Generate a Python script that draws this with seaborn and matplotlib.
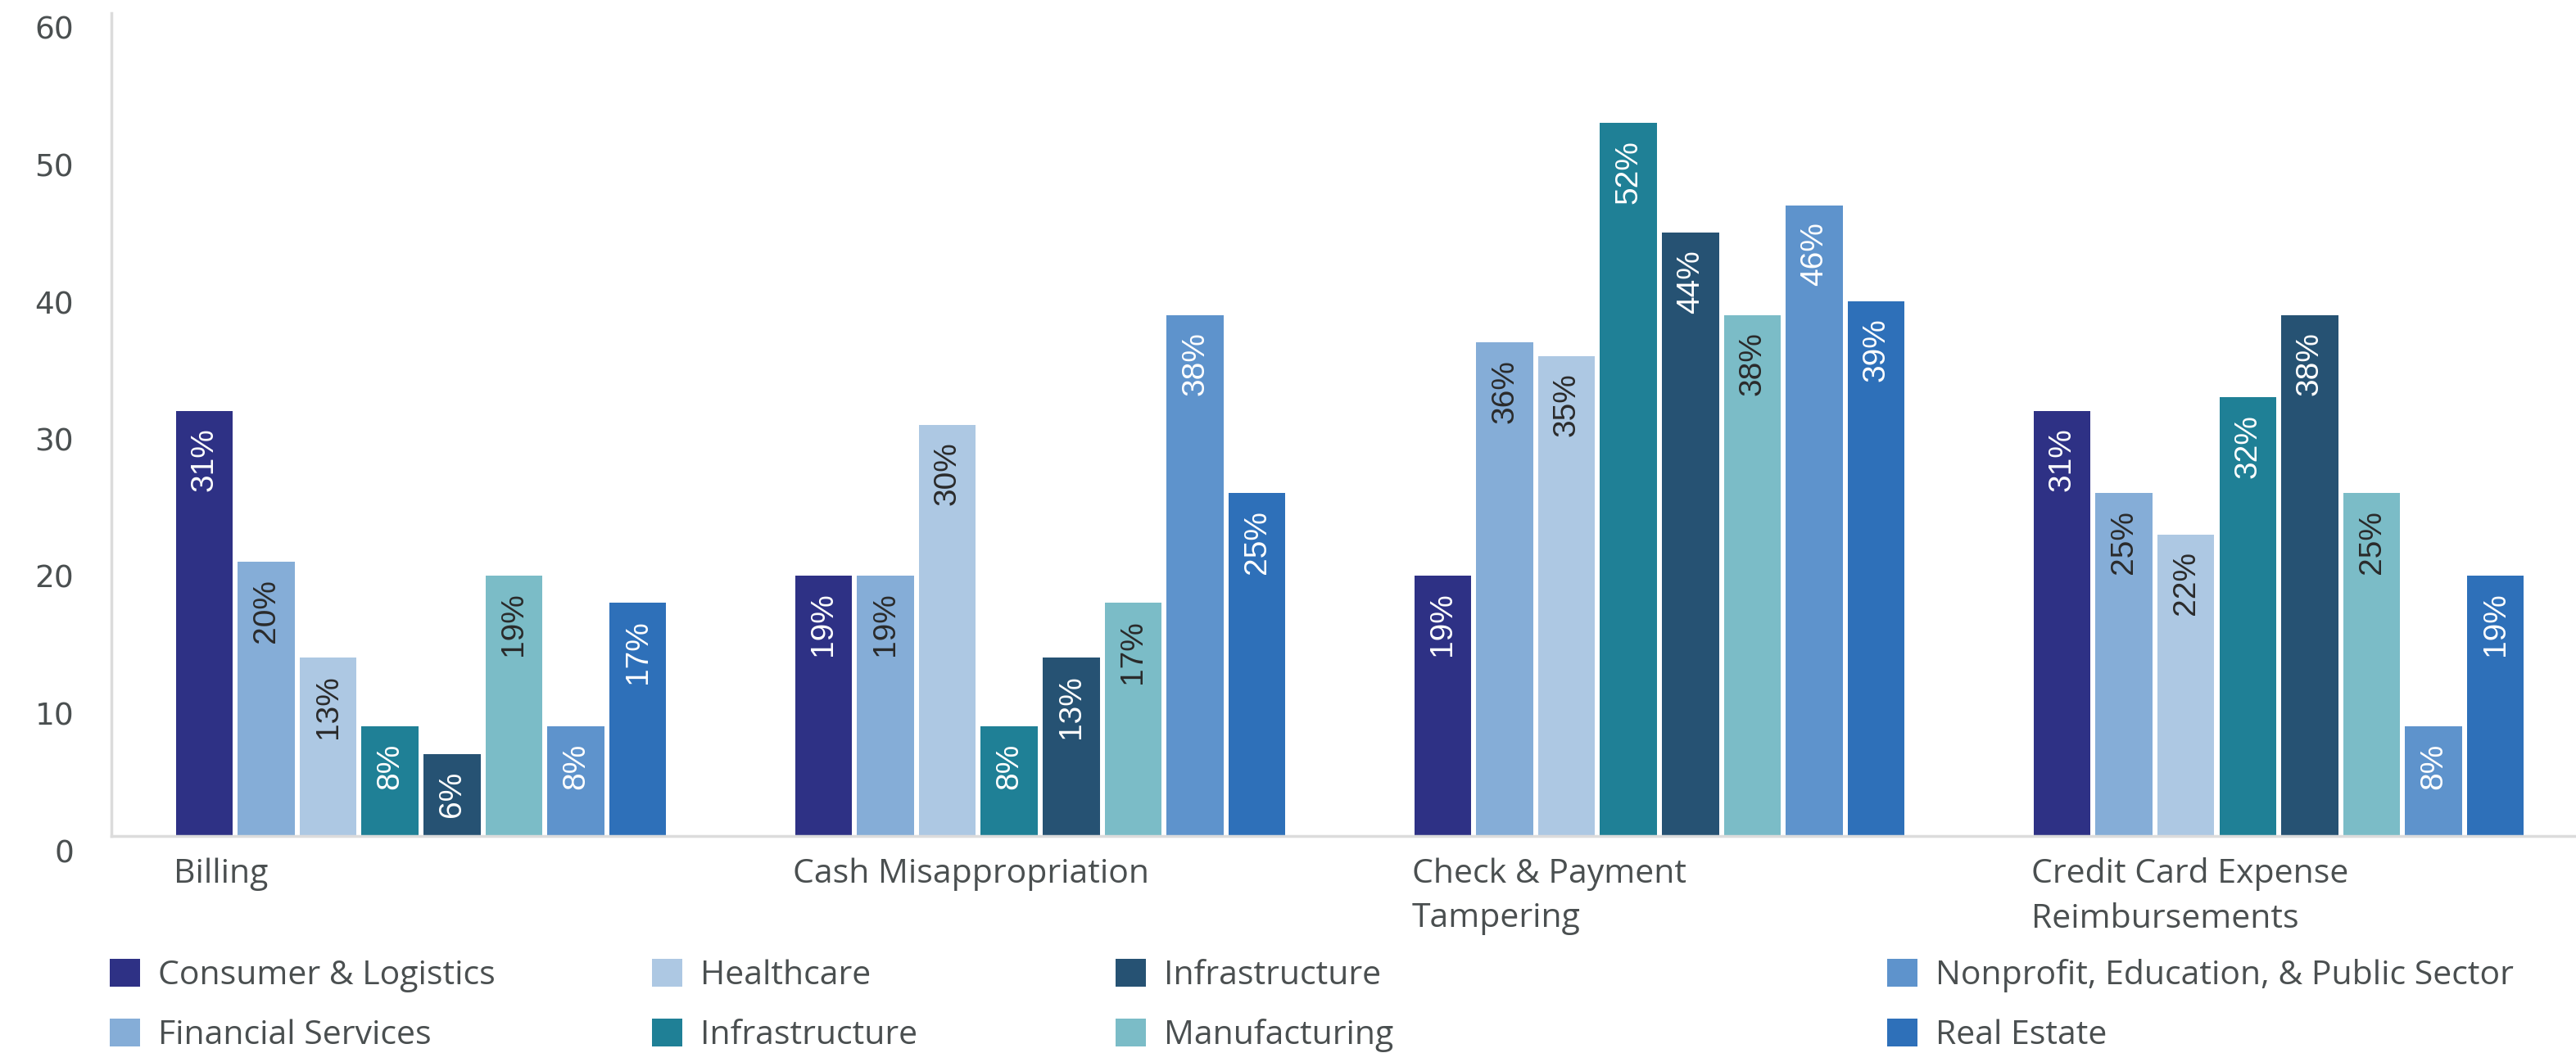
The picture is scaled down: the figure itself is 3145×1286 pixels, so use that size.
import numpy as np
import pandas as pd
import matplotlib
matplotlib.use("Agg")
import matplotlib.pyplot as plt
import matplotlib.transforms as mtransforms
import seaborn as sns

# ---------------- data ----------------
categories = ["Billing", "Cash Misappropriation", "Check & Payment\nTampering",
              "Credit Card Expense\nReimbursements"]
series_names = ["Consumer & Logistics", "Financial Services", "Healthcare", "Infrastructure",
                "Infrastructure", "Manufacturing", "Nonprofit, Education, & Public Sector",
                "Real Estate"]
series_keys = ["s1", "s2", "s3", "s4", "s5", "s6", "s7", "s8"]

consumer_logistics = [31, 19, 19, 31]
financial_services = [20, 19, 36, 25]
healthcare = [13, 30, 35, 22]
infrastructure_teal = [8, 8, 52, 32]
infrastructure_dark = [6, 13, 44, 38]
manufacturing = [19, 17, 38, 25]
nonprofit = [8, 38, 46, 8]
real_estate = [17, 25, 39, 19]

series_values = [consumer_logistics, financial_services, healthcare, infrastructure_teal,
                 infrastructure_dark, manufacturing, nonprofit, real_estate]

colors = ["#2E3185", "#85ADD7", "#ADC8E3", "#1F8096", "#265273", "#7BBCC7", "#5E93CC", "#2E70B9"]
label_colors = ["white", "#2a2a2a", "#2a2a2a", "white", "white", "#2a2a2a", "white", "white"]
y_ticks = [0, 10, 20, 30, 40, 50, 60]

rows = []
for key, vals in zip(series_keys, series_values):
    for cat, v in zip(categories, vals):
        rows.append({"category": cat, "series": key, "value": v})
df = pd.DataFrame(rows)

# ---------------- figure ----------------
W, H, DPI = 3145, 1286, 100
fig = plt.figure(figsize=(W / DPI, H / DPI), dpi=DPI)
ax = fig.add_axes([136 / W, 1 - 1021 / H, 1 - 136 / W, (1021 - 16) / H])

text_color = "#4a4f50"
main_font = "Open Sans"

sns.barplot(data=df, x="category", y="value", hue="series", order=categories,
            hue_order=series_keys, palette=colors, saturation=1, width=0.8, gap=0.08,
            errorbar=None, ax=ax, legend=True)

# bar labels
for cont, lc in zip(ax.containers, label_colors):
    for patch in cont.patches:
        h = patch.get_height()
        xc = patch.get_x() + patch.get_width() / 2
        ax.annotate(f"{h:.0f}%", xy=(xc, h), xytext=(0, -15), textcoords="offset points",
                    rotation=90, ha="center", va="top", color=lc, fontsize=28,
                    family="Liberation Sans")

# axes styling
ax.set_xlim(-0.5, 3.48)
ax.set_ylim(0, 60)
for s in ["top", "right"]:
    ax.spines[s].set_visible(False)
for s in ["left", "bottom"]:
    ax.spines[s].set_color("#dcdcdc")
    ax.spines[s].set_linewidth(2.5)
ax.set_xlabel("")
ax.set_ylabel("")
ax.tick_params(axis="both", length=0)

ax.set_yticks(y_ticks, labels=[str(t) for t in y_ticks])
ax.tick_params(axis="y", pad=33, labelsize=27, labelcolor=text_color)
offset = mtransforms.ScaledTranslation(0, -18 / DPI, fig.dpi_scale_trans)
for lbl in ax.get_yticklabels():
    lbl.set_transform(lbl.get_transform() + offset)
    lbl.set_family("DejaVu Sans")

ax.set_xticks([i - 0.4 for i in range(len(categories))], labels=categories)
ax.tick_params(axis="x", pad=19, labelsize=29.5, labelcolor=text_color)
for lbl in ax.get_xticklabels():
    lbl.set_ha("left")
    lbl.set_va("top")
    lbl.set_family(main_font)
    lbl.set_linespacing(1.45)

# legend in four columns placed individually
handles, _ = ax.get_legend_handles_labels()
ax.get_legend().remove()
col_x = [134 / W, 796 / W, 1362 / W, 2304 / W]
y_mid = 1 - 1228 / H
for c in range(4):
    fig.legend(handles[2 * c:2 * c + 2], series_names[2 * c:2 * c + 2], loc="center left",
               bbox_to_anchor=(col_x[c], y_mid), frameon=False, handlelength=0.9,
               handleheight=0.9, handletextpad=0.55, labelspacing=0.78, borderpad=0,
               borderaxespad=0, prop={"family": main_font, "size": 29.5}, labelcolor=text_color)

fig.savefig("out.png", dpi=DPI, facecolor="white")
